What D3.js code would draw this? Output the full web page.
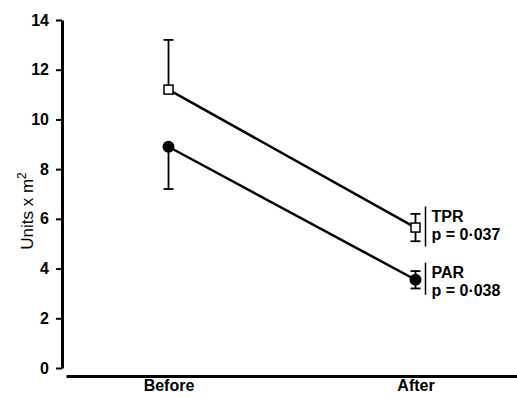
<!DOCTYPE html>
<html>
<head>
<meta charset="utf-8">
<script src="https://cdn.jsdelivr.net/npm/d3@7"></script>
<style>
    html, body { margin: 0; padding: 0; background: #fff; }
</style>
</head>
<body>
<svg id="chart" width="517" height="398"></svg>
<script>
(function() {
    'use strict';

    // Data
    const categories = ['Before', 'After'];
    const tprMean = [11.2, 5.65];
    const tprUpper = [13.2, 6.2];
    const tprLower = [null, 5.1];
    const parMean = [8.9, 3.55];
    const parUpper = [null, 3.9];
    const parLower = [7.2, 3.2];
    const yTicks = [0, 2, 4, 6, 8, 10, 12, 14];
    const notes = [
        { name: 'TPR', p: 'p = 0\u00b7037', at: 5.65 },
        { name: 'PAR', p: 'p = 0\u00b7038', at: 3.55 }
    ];

    const FONT = '"Liberation Sans", Arial, Helvetica, sans-serif';
    const svg = d3.select('#chart').style('font-family', FONT);

    // Scales
    const x = d3.scalePoint()
        .domain(categories)
        .range([66, 518])
        .padding(0.415);

    const y = d3.scaleLinear()
        .domain([0, 14])
        .range([368, 20]);

    // Y axis
    const yAxis = svg.append('g')
        .attr('transform', 'translate(62,0)')
        .call(d3.axisLeft(y).tickValues(yTicks).tickSize(6).tickSizeOuter(0).tickPadding(7));
    yAxis.attr('font-family', null).attr('font-size', null);
    yAxis.select('.domain').attr('stroke', '#000').attr('stroke-width', 3);
    yAxis.selectAll('.tick line').attr('stroke', '#000').attr('stroke-width', 2);
    yAxis.selectAll('.tick text')
        .style('font-family', FONT)
        .style('font-size', '16px')
        .style('font-weight', 'bold');

    // X axis (offset below the y axis)
    const xAxis = svg.append('g')
        .attr('transform', 'translate(0,376)')
        .call(d3.axisBottom(x).tickSize(0).tickSizeOuter(0).tickPadding(4));
    xAxis.attr('font-family', null).attr('font-size', null);
    xAxis.select('.domain').attr('stroke', '#000').attr('stroke-width', 3);
    xAxis.selectAll('.tick text')
        .style('font-family', FONT)
        .style('font-size', '16px')
        .style('font-weight', 'bold');

    // Y axis title
    const title = svg.append('text')
        .attr('transform', 'translate(33,211) rotate(-90)')
        .attr('text-anchor', 'middle')
        .style('font-size', '17px');
    title.append('tspan').text('Units x m');
    title.append('tspan').attr('dy', -7).style('font-size', '12px').text('2');

    // Series
    const series = [
        { mean: tprMean, upper: tprUpper, lower: tprLower, shape: 'square' },
        { mean: parMean, upper: parUpper, lower: parLower, shape: 'circle' }
    ];

    const line = d3.line()
        .x((d, i) => x(categories[i]))
        .y(d => y(d));

    series.forEach(s => {
        svg.append('path')
            .datum(s.mean)
            .attr('d', line)
            .attr('fill', 'none')
            .attr('stroke', '#000')
            .attr('stroke-width', 2.5);

        // Error bars
        categories.forEach((c, i) => {
            const cx = x(c);
            [s.upper[i], s.lower[i]].forEach(v => {
                if (v === null) return;
                svg.append('line')
                    .attr('x1', cx).attr('x2', cx)
                    .attr('y1', y(s.mean[i])).attr('y2', y(v))
                    .attr('stroke', '#000').attr('stroke-width', 1.8);
                svg.append('line')
                    .attr('x1', cx - 5).attr('x2', cx + 5)
                    .attr('y1', y(v)).attr('y2', y(v))
                    .attr('stroke', '#000').attr('stroke-width', 1.8);
            });
        });

        // Markers
        if (s.shape === 'square') {
            svg.append('g').selectAll('rect')
                .data(s.mean)
                .join('rect')
                .attr('x', (d, i) => x(categories[i]) - 4.5)
                .attr('y', d => y(d) - 4.5)
                .attr('width', 9)
                .attr('height', 9)
                .attr('fill', '#fff')
                .attr('stroke', '#000')
                .attr('stroke-width', 1.5);
        } else {
            svg.append('g').selectAll('circle')
                .data(s.mean)
                .join('circle')
                .attr('cx', (d, i) => x(categories[i]))
                .attr('cy', d => y(d))
                .attr('r', 6)
                .attr('fill', '#000');
        }
    });

    // Annotations next to the "After" points
    const ax = x('After') + 10;
    notes.forEach((n, i) => {
        const cy = y(n.at);
        const top = i === 0 ? cy - 21 : cy - 17;
        const bottom = i === 0 ? cy + 19 : cy + 15;
        svg.append('line')
            .attr('x1', ax).attr('x2', ax)
            .attr('y1', top).attr('y2', bottom)
            .attr('stroke', '#000').attr('stroke-width', 1.5);
        svg.append('text')
            .attr('x', ax + 6)
            .attr('y', top + 15)
            .style('font-size', '16px')
            .style('font-weight', 'bold')
            .text(n.name);
        svg.append('text')
            .attr('x', ax + 6)
            .attr('y', top + 33)
            .style('font-size', '16px')
            .style('font-weight', 'bold')
            .text(n.p);
    });
})();
</script>
</body>
</html>
